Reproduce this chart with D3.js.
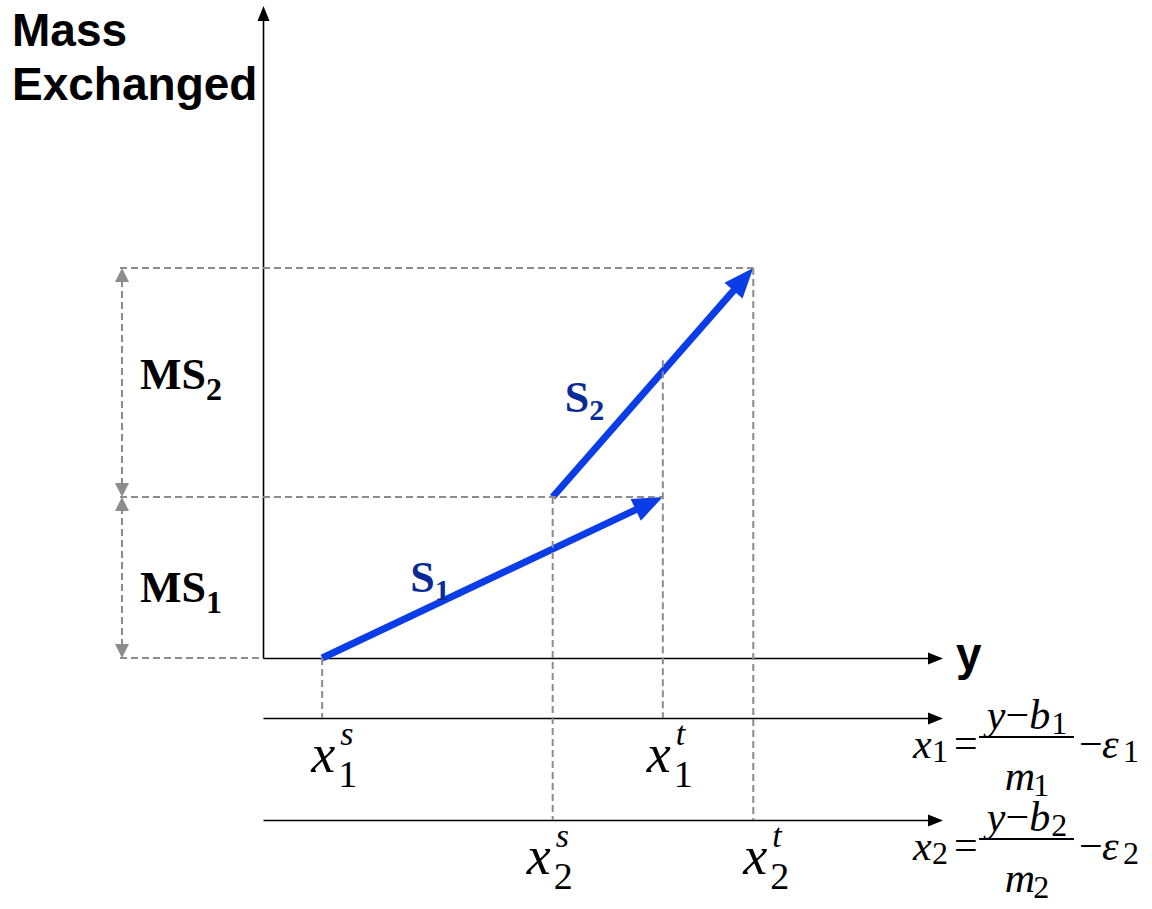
<!DOCTYPE html>
<html>
<head>
<meta charset="utf-8">
<script src="https://cdn.jsdelivr.net/npm/d3@7"></script>
<style>
  html, body { margin: 0; padding: 0; background: #fff; }
  svg { display: block; }
</style>
</head>
<body>
<div id="chart"></div>
<script>
// ---- Streams: supply / target composition on the y scale ----
const streamNames   = ["S", "S"];
const streamIndex   = ["1", "2"];
const supplyComp    = [0.87, 4.26];
const targetComp    = [5.88, 7.21];
// ---- Mass exchanged by each stream (stacked on the vertical axis) ----
const massExchanged = [2.47, 3.51];
const massLabels    = ["MS", "MS"];
// ---- Axis titles ----
const yTitleLines   = ["Mass", "Exchanged"];
const xTitle        = "y";
// ---- Composition-scale point labels ----
const supplySup     = "s";
const targetSup     = "t";

const W = 1152, H = 909;
const BLUE = "#0a3de8", NAVY = "#0a2a98", GRAY = "#8c8c8c";
const SERIF = "'Liberation Serif', 'Times New Roman', serif";
const SANS  = "'Liberation Sans', Arial, sans-serif";

const svg = d3.select("#chart").append("svg")
  .attr("width", W).attr("height", H)
  .style("background", "#fff");

// Scales: composition (horizontal) and mass exchanged (vertical)
const comp = d3.scaleLinear().domain([0, 10]).range([263, 943]);
const mass = d3.scaleLinear().domain([0, 10]).range([658, 6]);

const massEnd   = d3.cumsum(massExchanged);
const massStart = [0, ...Array.from(massEnd).slice(0, -1)];

// baselines of the y scale and the two stream composition scales
const rowY = [mass(0), 718, 820];

function head(g, tip, angle, len, hw, color) {
  const [tx, ty] = tip;
  const c = Math.cos(angle), s = Math.sin(angle);
  const bx = tx - len * c, by = ty - len * s;
  g.append("path")
    .attr("d", d3.line()([[tx, ty], [bx - hw * s, by + hw * c], [bx + hw * s, by - hw * c]]) + "Z")
    .attr("fill", color);
}

// ---- Axes ----
const axesG = svg.append("g");
const vAxisScale = mass.copy().range([mass(0), mass.range()[1] + 13]);
axesG.append("g")
  .attr("transform", `translate(${comp(0)},0)`)
  .call(d3.axisLeft(vAxisScale).tickValues([]).tickSizeOuter(0))
  .call(g => g.select(".domain").attr("stroke", "#000").attr("stroke-width", 1.6));
head(axesG, [comp(0) + 0.5, mass.range()[1]], -Math.PI / 2, 15, 6, "#000");

const hAxisScale = comp.copy().range([comp.range()[0], comp.range()[1] - 13]);
rowY.forEach(y => {
  axesG.append("g")
    .attr("transform", `translate(0,${y})`)
    .call(d3.axisBottom(hAxisScale).tickValues([]).tickSizeOuter(0))
    .call(g => g.select(".domain").attr("stroke", "#000").attr("stroke-width", 1.6));
  head(axesG, [comp.range()[1], y + 0.5], 0, 15, 6, "#000");
});

// ---- Stream arrows ----
const arrowsG = svg.append("g");
const arrowPts = streamNames.map((_, i) => ({
  x0: comp(supplyComp[i]), y0: mass(massStart[i]),
  x1: comp(targetComp[i]), y1: mass(massEnd[i])
}));
arrowPts.forEach(p => {
  const ang = Math.atan2(p.y1 - p.y0, p.x1 - p.x0);
  const L = 30;
  arrowsG.append("line")
    .attr("x1", p.x0).attr("y1", p.y0)
    .attr("x2", p.x1 - (L - 2) * Math.cos(ang)).attr("y2", p.y1 - (L - 2) * Math.sin(ang))
    .attr("stroke", BLUE).attr("stroke-width", 7);
  head(arrowsG, [p.x1, p.y1], ang, L, 12, BLUE);
});

// ---- Dashed guide lines ----
const dashG = svg.append("g")
  .attr("stroke", GRAY).attr("stroke-width", 2).attr("stroke-dasharray", "7,4").attr("fill", "none");
const leftX = 120;
dashG.append("line").attr("x1", leftX).attr("x2", comp(0)).attr("y1", mass(0)).attr("y2", mass(0));
streamNames.forEach((_, i) => {
  const yEnd = mass(massEnd[i]);
  dashG.append("line").attr("x1", leftX).attr("x2", comp(targetComp[i])).attr("y1", yEnd).attr("y2", yEnd);
  // supply composition drop line
  const xs = comp(supplyComp[i]);
  dashG.append("line").attr("x1", xs).attr("x2", xs).attr("y1", mass(massStart[i])).attr("y2", rowY[i + 1]);
  // target composition drop line (carried up past any later stream it crosses)
  const xt = comp(targetComp[i]);
  let top = yEnd;
  arrowPts.forEach((p, j) => {
    if (j !== i && xt > p.x0 && xt < p.x1) {
      const yc = p.y0 + (p.y1 - p.y0) * (xt - p.x0) / (p.x1 - p.x0);
      top = Math.min(top, yc - 11);
    }
  });
  dashG.append("line").attr("x1", xt).attr("x2", xt).attr("y1", top).attr("y2", rowY[i + 1]);
});

// ---- Dimension arrows for the mass exchanged by each stream ----
const dimX = 122;
const dimG = svg.append("g");
const msDy = [25, 6];
streamNames.forEach((_, i) => {
  const yb = mass(massStart[i]), yt = mass(massEnd[i]);
  dimG.append("line").attr("x1", dimX).attr("x2", dimX).attr("y1", yb - 12).attr("y2", yt + 12)
    .attr("stroke", GRAY).attr("stroke-width", 2).attr("stroke-dasharray", "7,4");
  head(dimG, [dimX, yt], -Math.PI / 2, 14, 7, GRAY);
  head(dimG, [dimX, yb], Math.PI / 2, 14, 7, GRAY);
  const t = dimG.append("text")
    .attr("x", 140).attr("y", (yb + yt) / 2 + msDy[i])
    .attr("font-family", SERIF).attr("font-weight", "bold").attr("font-size", 44).attr("fill", "#000");
  t.append("tspan").text(massLabels[i]);
  t.append("tspan").attr("dy", 11).attr("font-size", 32).text(streamIndex[i]);
});

// ---- Stream labels ----
const sOffset = [[88, -66], [12, -85]];
streamNames.forEach((name, i) => {
  const p = arrowPts[i];
  const t = svg.append("text")
    .attr("x", p.x0 + sOffset[i][0]).attr("y", p.y0 + sOffset[i][1])
    .attr("font-family", SERIF).attr("font-weight", "bold").attr("font-size", 44).attr("fill", NAVY);
  t.append("tspan").text(name);
  t.append("tspan").attr("dy", 8).attr("font-size", 30).text(streamIndex[i]);
});

// ---- Axis titles ----
const titleG = svg.append("g")
  .attr("font-family", SANS).attr("font-weight", "bold").attr("font-size", 46).attr("fill", "#000");
yTitleLines.forEach((s, k) => titleG.append("text").attr("x", 12).attr("y", 46 + k * 54).text(s));
titleG.append("text").attr("x", comp.range()[1] + 13).attr("y", rowY[0] + 12).text(xTitle);

// ---- Supply / target labels on the stream composition scales ----
const labG = svg.append("g").attr("font-family", SERIF).attr("fill", "#000");
const labNudge = [[-11, -16], [-26, -10]];
function pointLabel(x, base, idx, sup) {
  labG.append("text").attr("x", x).attr("y", base)
    .attr("font-style", "italic").attr("font-size", 54).text("x");
  labG.append("text").attr("x", x + 27).attr("y", base + 15)
    .attr("font-size", 38).text(idx);
  labG.append("text").attr("x", x + 29).attr("y", base - 27)
    .attr("font-style", "italic").attr("font-size", 34).text(sup);
}
streamNames.forEach((_, i) => {
  const base = rowY[i + 1] + 54;
  pointLabel(comp(supplyComp[i]) + labNudge[i][0], base, streamIndex[i], supplySup);
  pointLabel(comp(targetComp[i]) + labNudge[i][1], base, streamIndex[i], targetSup);
});

// ---- Composition relations x_i = (y - b_i)/m_i - eps_i ----
const eqG = svg.append("g").attr("font-family", SERIF).attr("fill", "#000");
const ex = 913, FS = 42, SUB = 32;
streamNames.forEach((_, i) => {
  const k = streamIndex[i];
  const b = rowY[i + 1] + 40;
  eqG.append("text").attr("x", ex).attr("y", b).attr("font-style", "italic").attr("font-size", FS).text("x");
  eqG.append("text").attr("x", ex + 19).attr("y", b + 4).attr("font-size", SUB).text(k);
  eqG.append("text").attr("x", ex + 41).attr("y", b - 1).attr("font-size", FS).text("=");
  eqG.append("line").attr("x1", ex + 66).attr("x2", ex + 161).attr("y1", b - 21).attr("y2", b - 21)
    .attr("stroke", "#000").attr("stroke-width", 1.8);
  const num = eqG.append("text").attr("x", ex + 114).attr("y", b - 29)
    .attr("text-anchor", "middle").attr("font-size", FS);
  num.append("tspan").attr("font-style", "italic").text("y");
  num.append("tspan").text("\u2212");
  num.append("tspan").attr("font-style", "italic").text("b");
  num.append("tspan").attr("font-size", SUB).attr("dy", 5).attr("dx", 1).text(k);
  const den = eqG.append("text").attr("x", ex + 114).attr("y", b + 32)
    .attr("text-anchor", "middle").attr("font-size", FS);
  den.append("tspan").attr("font-style", "italic").text("m");
  den.append("tspan").attr("font-size", SUB).attr("dy", 6).attr("dx", -2).text(k);
  eqG.append("text").attr("x", ex + 166).attr("y", b).attr("font-size", FS).text("\u2212");
  eqG.append("text").attr("x", ex + 189).attr("y", b).attr("font-style", "italic").attr("font-size", FS).text("\u03b5");
  eqG.append("text").attr("x", ex + 210).attr("y", b + 4).attr("font-size", SUB).text(k);
});
</script>
</body>
</html>
